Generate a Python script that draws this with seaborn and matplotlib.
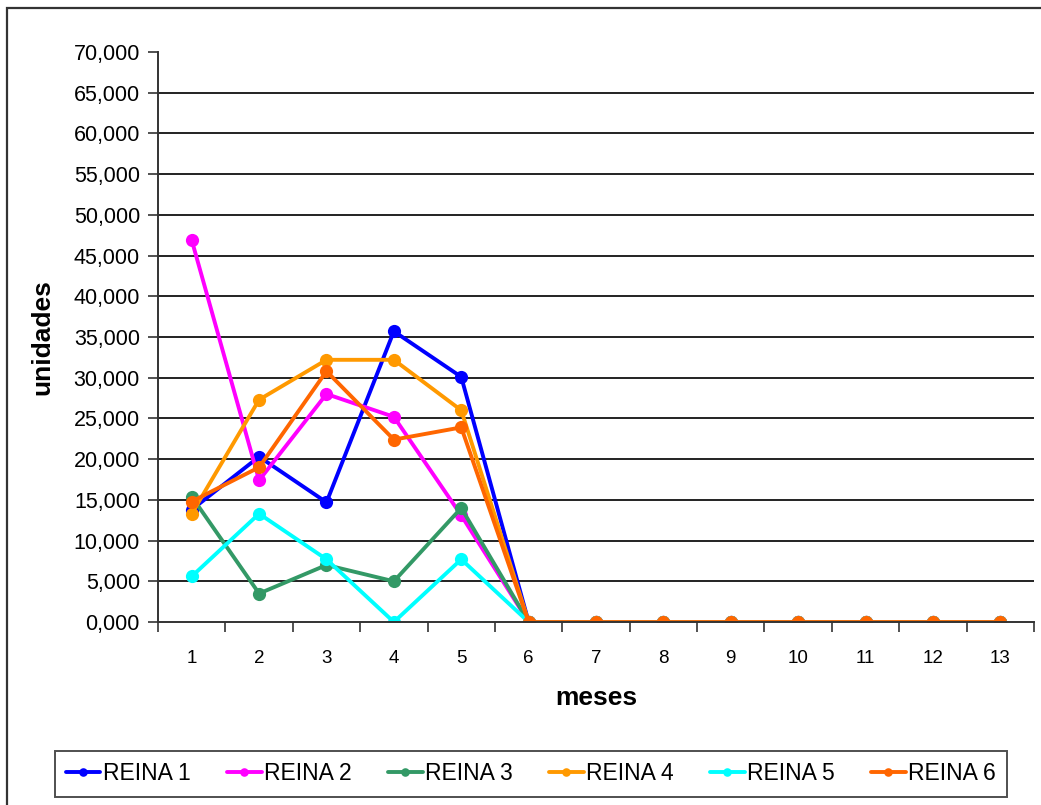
import numpy as np
import pandas as pd
import matplotlib
matplotlib.use("Agg")
import matplotlib.pyplot as plt
from matplotlib.patches import Rectangle
from matplotlib.ticker import FuncFormatter
import seaborn as sns

# Monthly units per queen (thousands); months 6-13 carry no production
meses = list(range(1, 14))
reina_1 = [13.8, 20.3, 14.7, 35.7, 30.1, 0, 0, 0, 0, 0, 0, 0, 0]
reina_2 = [46.9, 17.4, 28.0, 25.2, 13.1, 0, 0, 0, 0, 0, 0, 0, 0]
reina_3 = [15.4, 3.5, 7.0, 5.0, 14.0, 0, 0, 0, 0, 0, 0, 0, 0]
reina_4 = [13.3, 27.3, 32.2, 32.2, 26.0, 0, 0, 0, 0, 0, 0, 0, 0]
reina_5 = [5.6, 13.3, 7.7, 0.0, 7.7, 0, 0, 0, 0, 0, 0, 0, 0]
reina_6 = [14.8, 19.0, 30.8, 22.4, 23.9, 0, 0, 0, 0, 0, 0, 0, 0]

series = {
    "REINA 1": reina_1,
    "REINA 2": reina_2,
    "REINA 3": reina_3,
    "REINA 4": reina_4,
    "REINA 5": reina_5,
    "REINA 6": reina_6,
}
colores = ["#0000FF", "#FF00FF", "#339966", "#FF9900", "#00FFFF", "#FF6600"]
y_ticks = list(range(0, 75, 5))

df = pd.DataFrame(
    [(m, v, nombre) for nombre, vals in series.items() for m, v in zip(meses, vals)],
    columns=["mes", "unidades", "serie"],
)

sns.set_theme(style="white")
plt.rcParams["font.family"] = ["Liberation Sans", "DejaVu Sans"]
plt.rcParams["text.color"] = "black"
plt.rcParams["axes.labelcolor"] = "black"
plt.rcParams["xtick.color"] = "black"
plt.rcParams["ytick.color"] = "black"

fig = plt.figure(figsize=(10.41, 8.05), dpi=100)
ax = fig.add_axes([0.1518, 0.2273, 0.9933 - 0.1518, 0.9354 - 0.2273])

sns.lineplot(
    data=df, x="mes", y="unidades", hue="serie", palette=colores,
    marker="o", markersize=9.5, markeredgewidth=0, linewidth=2.8,
    ax=ax, legend=True,
)

ax.set_xlim(0.5, 13.5)
ax.set_ylim(0, 70)

# y axis: ticks every 5, comma-decimal labels, gridlines except the top one
ax.set_yticks(y_ticks)
ax.yaxis.set_major_formatter(FuncFormatter(lambda v, p: f"{v:.3f}".replace(".", ",")))
ax.tick_params(axis="y", which="major", direction="out", length=7, width=1.2,
               color="#333333", labelsize=15.5, pad=6, left=True, labelcolor="black")
ax.grid(axis="y", color="#222222", linewidth=1.4)
ax.grid(axis="x", visible=False)
gl = ax.get_ygridlines()
gl[-1].set_visible(False)
gl[0].set_visible(False)

# x axis: tick marks between categories, labels centred on each month
ax.set_xticks(np.arange(0.5, 14.0, 1.0))
ax.set_xticklabels([])
ax.set_xticks(meses, minor=True)
ax.set_xticklabels([str(m) for m in meses], minor=True)
ax.tick_params(axis="x", which="major", direction="out", length=7, width=1.2,
               color="#333333", bottom=True)
ax.tick_params(axis="x", which="minor", length=0, labelsize=13.5, pad=20,
               bottom=True, labelcolor="black")

for side in ["top", "right"]:
    ax.spines[side].set_visible(False)
for side in ["left", "bottom"]:
    ax.spines[side].set_color("#333333")
    ax.spines[side].set_linewidth(1.4)

ax.set_xlabel("meses", fontsize=19, fontweight="bold", labelpad=14, color="black")
ax.set_ylabel("unidades", fontsize=19, fontweight="bold", labelpad=14, color="black")

handles, labels = ax.get_legend_handles_labels()
ax.get_legend().remove()
leg = fig.legend(
    handles, labels, loc="center", bbox_to_anchor=(0.510, 0.039), ncol=6,
    fontsize=16.5, frameon=True, fancybox=False, edgecolor="#222222",
    handlelength=1.5, handletextpad=0.1, columnspacing=1.6,
    borderpad=0.5, markerscale=0.65,
)
leg.get_frame().set_linewidth(1.4)

# Outer chart border
fig.patches.append(Rectangle((7 / 1041, -0.02), 1.05, 1 - 8 / 805 + 0.02,
                             transform=fig.transFigure, fill=False,
                             edgecolor="#333333", linewidth=1.6))

fig.savefig("out.png", dpi=100)
